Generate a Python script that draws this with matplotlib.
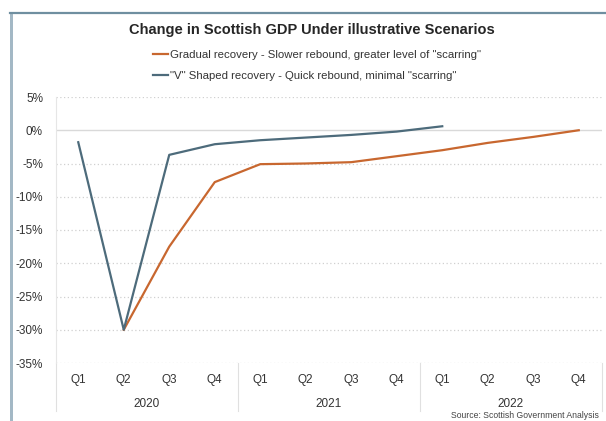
import numpy as np
import matplotlib.pyplot as plt
from matplotlib.patches import Rectangle

plt.rcParams['font.family'] = ['Liberation Sans', 'DejaVu Sans']

quarters = ['Q1', 'Q2', 'Q3', 'Q4'] * 3
years = ['2020', '2021', '2022']

# % change in GDP
gradual = [np.nan, -30.0, -17.5, -7.8, -5.1, -5.0, -4.8, -3.9, -3.0, -1.9, -1.0, 0.0]
v_shaped = [-1.8, -30.0, -3.7, -2.1, -1.5, -1.1, -0.7, -0.2, 0.6, np.nan, np.nan, np.nan]

orange = '#c8672f'
blue = '#4d6b7b'
txt = '#333333'

fig = plt.figure(figsize=(6.06, 4.21), dpi=100)

# frame of the screenshot (top and left border)
fig.add_artist(plt.Line2D([10/606, 1], [1 - 13/421, 1 - 13/421], color='#6f8fa0', lw=1.6))
fig.add_artist(Rectangle((10/606, 0), 3.5/606, 1 - 13/421, color='#a3b8c5', lw=0))

ax = fig.add_axes([55.5/606, 1 - 363/421, 546/606, 266/421])
x = np.arange(len(quarters))

ax.plot(x, gradual, color=orange, lw=1.6, label='Gradual recovery - Slower rebound, greater level of "scarring"', zorder=3)
ax.plot(x, v_shaped, color=blue, lw=1.6, label='"V" Shaped recovery - Quick rebound, minimal "scarring"', zorder=4)

ax.set_xlim(-0.5, 11.5)
ax.set_ylim(-35, 5)
ax.set_yticks(np.arange(-35, 6, 5))
ax.set_yticklabels([f'{v}%' for v in range(-35, 6, 5)])
for v in range(-35, 6, 5):
    if v == 0:
        ax.axhline(v, color='#d9d9d9', lw=1.0, zorder=1)
    else:
        ax.axhline(v, color='#d0d0d0', lw=0.9, ls=(0, (1, 2)), zorder=1)

for s in ax.spines.values():
    s.set_visible(False)
ax.spines['left'].set_visible(True)
ax.spines['left'].set_color('#e6e6e6')
ax.spines['left'].set_linewidth(0.8)
ax.tick_params(axis='y', length=0, labelsize=8.5, colors=txt, pad=9)
ax.set_xticks(x)
ax.set_xticklabels(quarters)
ax.tick_params(axis='x', length=0, labelsize=8.5, colors=txt, pad=8)

trans = ax.get_xaxis_transform()
for i, yr in enumerate(years):
    ax.text(4 * i + 1.5, -0.155, yr, transform=trans, ha='center', va='center', fontsize=8.5, color=txt)
for b in [-0.5, 3.5, 7.5, 11.5]:
    ax.plot([b, b], [0, -0.18], transform=trans, color='#e0e0e0', lw=0.8, clip_on=False)

fig.text(0.515, 1 - 30/421, 'Change in Scottish GDP Under illustrative Scenarios',
         ha='center', va='center', fontsize=10.5, fontweight='bold', color='#262626')
fig.legend(loc='upper center', bbox_to_anchor=(0.523, 1 - 40/421), frameon=False, fontsize=8.2,
           handlelength=1.3, handletextpad=0.2, labelspacing=0.95, labelcolor=txt)
fig.text(0.988, 1 - 415/421, 'Source: Scottish Government Analysis', ha='right', va='center',
         fontsize=6.2, color='#444444')

fig.savefig('out.png', dpi=100)
